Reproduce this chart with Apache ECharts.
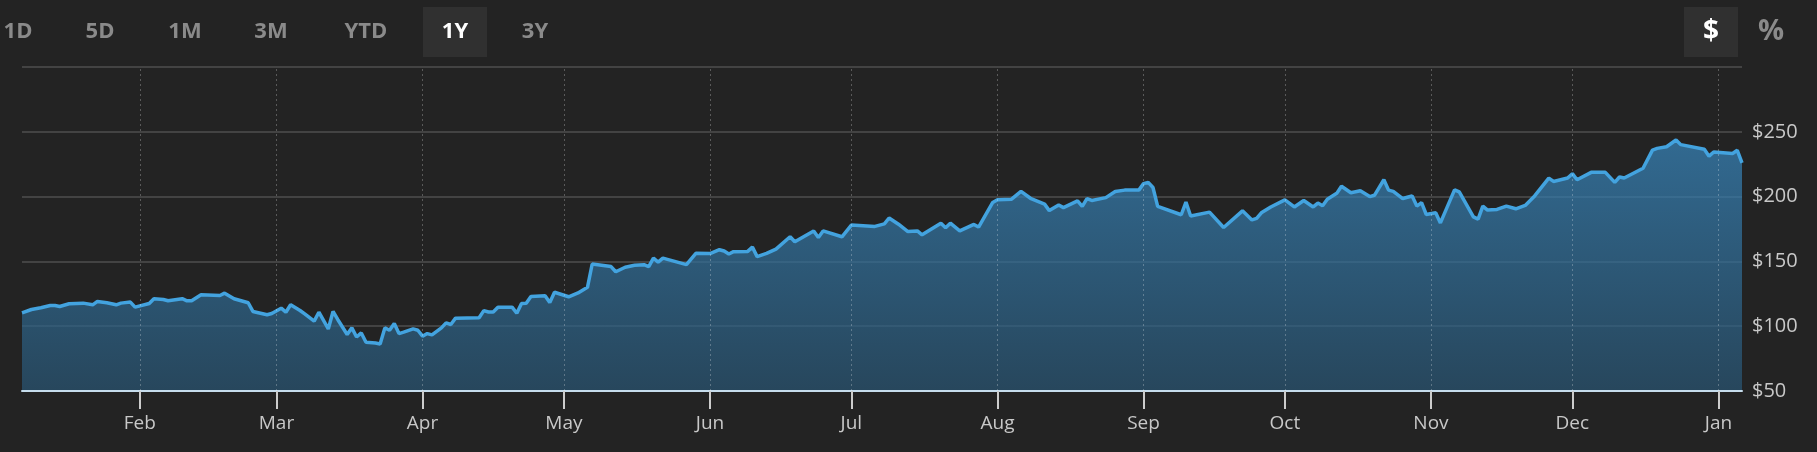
<!DOCTYPE html>
<html>
<head>
<meta charset="utf-8">
<script src="https://cdn.jsdelivr.net/npm/echarts@6/dist/echarts.min.js"></script>
<style>
  html, body { margin: 0; padding: 0; background: #232323; }
  #main { width: 1817px; height: 452px; }
</style>
</head>
<body>
<div id="main"></div>
<script>
// price data (1Y range)
var dates = [
  '2020-01-07','2020-01-09','2020-01-11','2020-01-13','2020-01-14','2020-01-15','2020-01-17','2020-01-20',
  '2020-01-22','2020-01-23','2020-01-25','2020-01-27','2020-01-28','2020-01-30','2020-01-31','2020-02-03',
  '2020-02-04','2020-02-06','2020-02-07','2020-02-10','2020-02-11','2020-02-12','2020-02-14','2020-02-18',
  '2020-02-19','2020-02-21','2020-02-24','2020-02-25','2020-02-28','2020-02-29','2020-03-02','2020-03-03',
  '2020-03-04','2020-03-06','2020-03-07','2020-03-09','2020-03-10','2020-03-12','2020-03-13','2020-03-14',
  '2020-03-16','2020-03-17','2020-03-18','2020-03-19','2020-03-20','2020-03-22','2020-03-23','2020-03-24',
  '2020-03-25','2020-03-26','2020-03-27','2020-03-28','2020-03-30','2020-03-31','2020-04-01','2020-04-02',
  '2020-04-03','2020-04-05','2020-04-06','2020-04-07','2020-04-08','2020-04-13','2020-04-14','2020-04-15',
  '2020-04-16','2020-04-17','2020-04-20','2020-04-21','2020-04-22','2020-04-23','2020-04-24','2020-04-27',
  '2020-04-28','2020-04-29','2020-05-02','2020-05-04','2020-05-06','2020-05-07','2020-05-09','2020-05-11',
  '2020-05-12','2020-05-14','2020-05-16','2020-05-18','2020-05-19','2020-05-20','2020-05-21','2020-05-22',
  '2020-05-27','2020-05-29','2020-06-01','2020-06-03','2020-06-04','2020-06-05','2020-06-06','2020-06-09',
  '2020-06-10','2020-06-11','2020-06-13','2020-06-15','2020-06-18','2020-06-19','2020-06-23','2020-06-24',
  '2020-06-25','2020-06-29','2020-07-01','2020-07-06','2020-07-08','2020-07-09','2020-07-11','2020-07-13',
  '2020-07-15','2020-07-16','2020-07-18','2020-07-20','2020-07-21','2020-07-22','2020-07-24','2020-07-27',
  '2020-07-28','2020-07-31','2020-08-01','2020-08-04','2020-08-06','2020-08-08','2020-08-11','2020-08-12',
  '2020-08-14','2020-08-15','2020-08-18','2020-08-19','2020-08-20','2020-08-21','2020-08-24','2020-08-26',
  '2020-08-28','2020-08-31','2020-09-01','2020-09-02','2020-09-03','2020-09-04','2020-09-09','2020-09-10',
  '2020-09-11','2020-09-15','2020-09-18','2020-09-22','2020-09-24','2020-09-25','2020-09-26','2020-09-28',
  '2020-10-01','2020-10-03','2020-10-05','2020-10-07','2020-10-08','2020-10-09','2020-10-10','2020-10-12',
  '2020-10-13','2020-10-15','2020-10-17','2020-10-19','2020-10-20','2020-10-22','2020-10-23','2020-10-24',
  '2020-10-26','2020-10-28','2020-10-29','2020-10-30','2020-10-31','2020-11-02','2020-11-03','2020-11-06',
  '2020-11-07','2020-11-10','2020-11-11','2020-11-12','2020-11-13','2020-11-15','2020-11-17','2020-11-19',
  '2020-11-21','2020-11-23','2020-11-26','2020-11-27','2020-11-30','2020-12-01','2020-12-02','2020-12-05',
  '2020-12-08','2020-12-10','2020-12-11','2020-12-12','2020-12-16','2020-12-18','2020-12-19','2020-12-21',
  '2020-12-23','2020-12-24','2020-12-29','2020-12-30','2020-12-31','2021-01-04','2021-01-05','2021-01-06'
];
var prices = [
  110.3,112.9,114.2,116.0,116.0,115.2,117.3,117.8,
  116.5,119.1,118.1,116.5,117.8,118.6,114.7,117.5,
  121.2,120.6,119.6,121.2,119.6,119.6,124.3,123.7,
  125.5,121.2,118.1,111.4,108.8,109.8,113.9,110.8,
  116.5,112.1,109.5,103.9,110.8,97.9,111.4,105.2,
  93.6,98.7,91.7,94.8,87.6,87.1,86.3,98.7,
  96.9,102.1,94.3,95.4,97.9,96.9,92.3,94.3,
  93.3,98.7,102.6,101.3,106.2,106.5,112.0,111.0,
  111.0,114.7,114.7,110.0,117.5,117.7,123.0,123.5,
  118.2,126.2,122.7,125.7,130.0,148.0,147.0,146.0,
  142.0,145.5,147.0,147.5,146.0,152.5,149.5,152.5,
  147.5,156.2,156.0,159.0,158.0,155.7,157.5,157.7,
  161.0,153.7,156.2,159.5,169.0,165.2,173.5,168.5,
  173.5,169.0,178.0,177.0,179.0,183.5,178.7,173.0,
  173.5,170.5,175.0,179.5,176.0,179.5,173.5,178.5,
  176.5,195.5,197.5,198.0,204.0,198.7,194.2,189.2,
  193.5,191.5,196.7,192.5,198.5,197.0,199.2,204.0,
  205.0,205.0,210.0,211.0,207.0,192.5,186.0,195.7,
  185.0,188.0,176.2,189.0,182.0,183.2,187.5,192.0,
  197.5,192.0,197.0,192.0,195.0,193.0,198.0,202.5,
  208.0,203.0,204.5,200.0,201.0,213.0,205.0,204.0,
  198.5,200.5,192.7,195.3,186.2,187.5,179.7,205.2,
  203.6,184.4,182.6,192.7,189.6,190.1,192.7,190.6,
  193.2,200.5,214.3,211.7,214.3,217.7,213.0,218.7,
  218.7,211.0,215.1,214.3,221.9,235.9,237.2,238.5,
  243.7,240.1,236.5,231.2,234.4,233.3,235.7,226.0
];
var monthTicks = ['2020-02-01','2020-03-01','2020-04-01','2020-05-01','2020-06-01','2020-07-01',
  '2020-08-01','2020-09-01','2020-10-01','2020-11-01','2020-12-01','2021-01-01'];
var monthNames = ['Feb','Mar','Apr','May','Jun','Jul','Aug','Sep','Oct','Nov','Dec','Jan'];
var rangeButtons = ['1D','5D','1M','3M','YTD','1Y','3Y'];
var activeRange = '1Y';

function ts(s) {
  var p = s.split('-');
  return new Date(+p[0], +p[1] - 1, +p[2]).getTime();
}

var seriesData = dates.map(function (d, i) { return [ts(d), prices[i]]; });
var monthStamps = monthTicks.map(ts);

// top bar buttons
var btnX = [18, 100, 185, 271, 366, 455, 535];
var graphics = [];
rangeButtons.forEach(function (r, i) {
  if (r === activeRange) {
    graphics.push({ type: 'rect', shape: { x: btnX[i] - 32, y: 7, width: 64, height: 50 },
      style: { fill: '#303030' }, silent: true });
  }
  graphics.push({ type: 'text', x: btnX[i], y: 32, silent: true,
    style: { text: r, fill: r === activeRange ? '#ffffff' : '#8a8a8a', font: 'bold 22px "Open Sans"',
      align: 'center', verticalAlign: 'middle' } });
});
graphics.push({ type: 'rect', shape: { x: 1684, y: 7, width: 54, height: 50 }, style: { fill: '#303030' }, silent: true });
graphics.push({ type: 'text', x: 1711, y: 32, silent: true,
  style: { text: '$', fill: '#ffffff', font: 'bold 28px "Open Sans"', align: 'center', verticalAlign: 'middle' } });
graphics.push({ type: 'text', x: 1771, y: 32, silent: true,
  style: { text: '%', fill: '#8a8a8a', font: 'bold 29px "Open Sans"', align: 'center', verticalAlign: 'middle' } });

var myChart = echarts.init(document.getElementById('main'));
myChart.setOption({
  backgroundColor: '#232323',
  animation: false,
  graphic: graphics,
  grid: { left: 22, right: 75, top: 67, bottom: 61 },
  // dates as timestamps on a numeric axis so the month ticks can be set exactly
  xAxis: {
    type: 'value',
    min: ts('2020-01-07'),
    max: ts('2021-01-06'),
    z: 3,
    axisLine: { lineStyle: { color: '#c6dded', width: 2 } },
    axisTick: { show: true, customValues: monthStamps, length: 18, lineStyle: { color: '#cccccc', width: 2 } },
    axisLabel: {
      customValues: monthStamps,
      margin: 23,
      color: '#c8c8c8',
      fontFamily: 'Open Sans',
      fontSize: 19,
      formatter: function (val) {
        var i = monthStamps.indexOf(val);
        return i >= 0 ? monthNames[i] : '';
      }
    },
    splitLine: { show: false }
  },
  yAxis: {
    type: 'value',
    position: 'right',
    min: 50,
    max: 300,
    interval: 50,
    z: 3,
    axisLine: { show: false },
    axisTick: { show: false },
    axisLabel: {
      margin: 10,
      color: '#c8c8c8',
      fontFamily: 'Open Sans',
      fontSize: 20,
      formatter: function (v) { return v >= 300 ? '' : '$' + v; }
    },
    splitLine: { lineStyle: { color: 'rgba(255,255,255,0.15)', width: 2 } }
  },
  series: [{
    type: 'line',
    data: seriesData,
    showSymbol: false,
    lineStyle: { color: '#43a3df', width: 3.5 },
    areaStyle: {
      color: new echarts.graphic.LinearGradient(0, 0, 0, 1, [
        { offset: 0, color: '#3888c0' },
        { offset: 1, color: '#295675' }
      ])
    },
    markLine: {
      silent: true,
      symbol: 'none',
      label: { show: false },
      lineStyle: { type: [2, 3], color: 'rgba(255,255,255,0.25)', width: 1 },
      data: monthStamps.map(function (m) { return { xAxis: m }; })
    }
  }]
});
</script>
</body>
</html>
